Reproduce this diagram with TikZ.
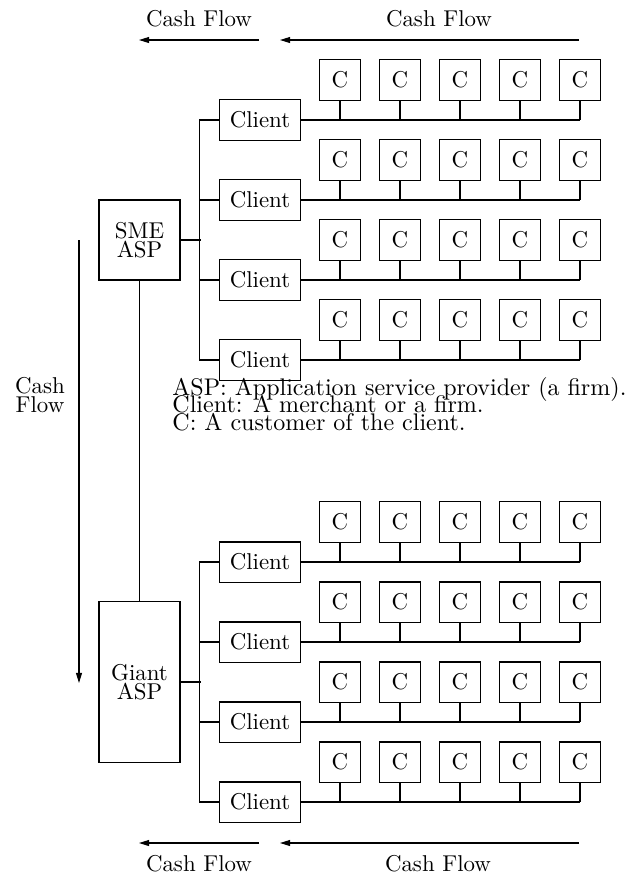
\documentclass[tikz,border=0pt]{standalone}
\usepackage{tikz}
\usetikzlibrary{arrows.meta,positioning,calc}
\tikzset{
  aspbox/.style    = {rectangle, draw, line width=0.5pt, minimum width=35.4pt, inner sep=1pt,
                      align=center, font={\fontsize{10}{8.4}\selectfont\setlength\lineskiplimit{-20pt}}},
  clientbox/.style = {rectangle, draw, line width=0.45pt, minimum width=35pt, minimum height=17.5pt, inner sep=1pt},
  custbox/.style   = {rectangle, draw, line width=0.45pt, minimum width=17.5pt, minimum height=17.5pt, inner sep=1pt},
  wire/.style      = {line width=0.45pt},
  flow/.style      = {-{Triangle[length=4.4pt, width=2.6pt]}, line width=0.5pt},
  lbl/.style       = {inner sep=0pt, align=center, font={\fontsize{10}{8.6}\selectfont\setlength\lineskiplimit{-20pt}}},
  note/.style      = {inner sep=0pt, align=left, font={\fontsize{10.5}{7.6}\selectfont\setlength\lineskiplimit{-20pt}}}
}

\begin{document}
\begin{tikzpicture}[x=0.437pt, y=-0.437pt]
  \useasboundingbox (0,0) rectangle (628,878);
  \node[aspbox, minimum height=35pt] (sme) at (139.5,240) {SME\\ASP};
  \node[aspbox, minimum height=70.4pt] (giant) at (139.5,682) {Giant\\ASP};
  \draw[wire] (sme) -- (giant);
  \foreach \blk/\ytop/\asp in {0/120/sme, 1/562/giant} {
    \foreach \row in {1,...,4} {
      \pgfmathtruncatemacro\k{4*\blk+\row}
      \node[clientbox] (cl-\k) at (260,{\ytop+80*(\row-1)}) {Client};
      \foreach \j in {1,...,5}
        \node[custbox] (c-\k-\j) at ({280+60*\j},{\ytop+80*(\row-1)-40}) {C};
      \foreach \j in {1,...,5}
        \draw[wire] (c-\k-\j.south) -- (c-\k-\j.south |- cl-\k.east);
      \draw[wire] (cl-\k.east) -- (cl-\k.east -| c-\k-5.south);
      \draw[wire] (cl-\k.west) -- ++(-20,0);
    }
    \pgfmathtruncatemacro\ka{4*\blk+1}
    \pgfmathtruncatemacro\kb{4*\blk+4}
    \draw[wire] ($(cl-\ka.west)+(-20,0)$) -- ($(cl-\kb.west)+(-20,0)$);
    \draw[wire] (\asp.east) -- ($(\asp.east)+(20,0)$);
  }
  \coordinate (tl-a) at (259,40);
  \coordinate (tl-b) at (139,40);
  \coordinate (tr-a) at (579,40);
  \coordinate (tr-b) at (280,40);
  \coordinate (bl-a) at (259,843);
  \coordinate (bl-b) at (139,843);
  \coordinate (br-a) at (579,843);
  \coordinate (br-b) at (280,843);
  \coordinate (vf-a) at (79,240);
  \coordinate (vf-b) at (79,683);
  \draw[flow] (tl-a) -- (tl-b);
  \draw[flow] (tr-a) -- (tr-b);
  \draw[flow] (bl-a) -- (bl-b);
  \draw[flow] (br-a) -- (br-b);
  \draw[flow] (vf-a) -- (vf-b);
  \node[lbl] (cf-tl) at (199,19) {Cash Flow};
  \node[lbl] (cf-tr) at (439,19) {Cash Flow};
  \node[lbl] (cf-bl) at (199,864) {Cash Flow};
  \node[lbl] (cf-br) at (438,864) {Cash Flow};
  \node[lbl] (cf-v) at (40,395) {Cash\\Flow};
  \node[note, anchor=north west] (legend) at (172,377)
    {ASP: Application service provider (a firm).\\Client: A merchant or a firm.\\C: A customer of the client.};
\end{tikzpicture}
\end{document}
